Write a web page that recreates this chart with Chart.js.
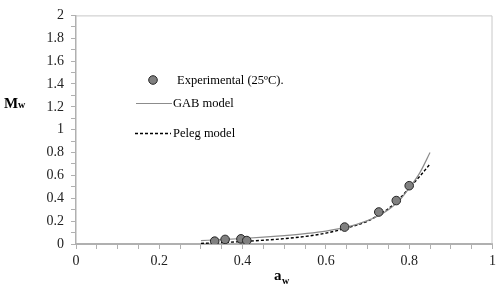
<!DOCTYPE html>
<html>
<head>
<meta charset="utf-8">
<script src="https://cdn.jsdelivr.net/npm/chart.js@4"></script>
<style>
  html, body { margin: 0; padding: 0; background: #fff; }
  #wrap { width: 500px; height: 291px; }
</style>
</head>
<body>
<div id="wrap"><canvas id="isotherm" width="500" height="291"></canvas></div>
<script>
const expAw = [0.333, 0.358, 0.396, 0.41, 0.645, 0.727, 0.769, 0.80];
const expMw = [0.025, 0.04, 0.045, 0.03, 0.148, 0.28, 0.38, 0.51];

const gabAw = [0.3, 0.35, 0.4, 0.45, 0.5, 0.55, 0.6, 0.65, 0.7, 0.725, 0.75, 0.775, 0.8, 0.825, 0.85];
const gabMw = [0.03, 0.038, 0.048, 0.06, 0.074, 0.091, 0.113, 0.147, 0.205, 0.245, 0.30, 0.375, 0.49, 0.62, 0.80];

const pelegAw = [0.3, 0.35, 0.4, 0.45, 0.5, 0.55, 0.6, 0.65, 0.7, 0.725, 0.75, 0.775, 0.8, 0.825, 0.85];
const pelegMw = [0.005, 0.013, 0.022, 0.033, 0.047, 0.066, 0.095, 0.14, 0.2, 0.25, 0.31, 0.39, 0.49, 0.59, 0.70];

const xTicks = [0, 0.2, 0.4, 0.6, 0.8, 1];
const yTicks = [0, 0.2, 0.4, 0.6, 0.8, 1, 1.2, 1.4, 1.6, 1.8, 2];

const legendItems = ['Experimental (25ºC).', 'GAB model', 'Peleg model'];

const toPoints = (xs, ys) => xs.map((x, i) => ({ x: x, y: ys[i] }));
const isMajor = (v, list) => list.some(t => Math.abs(t - v) < 1e-6);
const fmt = v => String(Math.round(v * 10) / 10);

const serif = 'Liberation Serif, Times New Roman, serif';
const axisGray = '#b0b0b0';

// frame, in-plot legend and axis titles with subscripts
const extras = {
  id: 'extras',
  afterDraw(chart) {
    const ctx = chart.ctx;
    const a = chart.chartArea;
    ctx.save();
    ctx.strokeStyle = '#c8c8c8';
    ctx.lineWidth = 1;
    ctx.beginPath();
    ctx.moveTo(a.left, a.top + 0.5);
    ctx.lineTo(a.right - 0.5, a.top + 0.5);
    ctx.lineTo(a.right - 0.5, a.bottom);
    ctx.stroke();

    // legend
    ctx.font = '12.5px ' + serif;
    ctx.textBaseline = 'middle';
    ctx.beginPath();
    ctx.arc(153, 80, 4.3, 0, Math.PI * 2);
    ctx.fillStyle = '#808080';
    ctx.fill();
    ctx.strokeStyle = '#262626';
    ctx.lineWidth = 1;
    ctx.stroke();
    ctx.fillStyle = '#000';
    ctx.fillText(legendItems[0], 177, 81);

    ctx.strokeStyle = '#8c8c8c';
    ctx.lineWidth = 1.2;
    ctx.beginPath();
    ctx.moveTo(136, 103.5);
    ctx.lineTo(172, 103.5);
    ctx.stroke();
    ctx.fillText(legendItems[1], 173, 104);

    ctx.strokeStyle = '#000';
    ctx.lineWidth = 1.3;
    ctx.setLineDash([3, 2]);
    ctx.beginPath();
    ctx.moveTo(135, 133.5);
    ctx.lineTo(171, 133.5);
    ctx.stroke();
    ctx.setLineDash([]);
    ctx.fillText(legendItems[2], 173, 134);

    // axis titles
    ctx.textBaseline = 'alphabetic';
    ctx.font = 'bold 15px ' + serif;
    ctx.fillText('M', 4, 108);
    ctx.font = 'bold 10px ' + serif;
    ctx.fillText('w', 18, 108);

    ctx.font = 'bold 15px ' + serif;
    ctx.fillText('a', 274, 280);
    ctx.font = 'bold 10px ' + serif;
    ctx.fillText('w', 282, 284);
    ctx.restore();
  }
};

new Chart(document.getElementById('isotherm'), {
  type: 'scatter',
  data: {
    datasets: [
      {
        label: legendItems[0],
        data: toPoints(expAw, expMw),
        backgroundColor: '#808080',
        borderColor: '#262626',
        borderWidth: 1,
        pointRadius: 4.3,
        showLine: false
      },
      {
        label: legendItems[1],
        data: toPoints(gabAw, gabMw),
        showLine: true,
        borderColor: '#8c8c8c',
        borderWidth: 1.2,
        pointRadius: 0,
        cubicInterpolationMode: 'monotone'
      },
      {
        label: legendItems[2],
        data: toPoints(pelegAw, pelegMw),
        showLine: true,
        borderColor: '#000',
        borderWidth: 1.4,
        borderDash: [3, 2],
        pointRadius: 0,
        cubicInterpolationMode: 'monotone'
      }
    ]
  },
  options: {
    responsive: false,
    animation: false,
    layout: { padding: { left: 0, right: 6, top: 10, bottom: 0 } },
    plugins: { legend: { display: false }, tooltip: { enabled: false } },
    scales: {
      x: {
        type: 'linear',
        min: 0,
        max: 1,
        afterFit: s => { s.height = 47; },
        border: { color: axisGray, width: 2 },
        grid: { drawOnChartArea: false, drawTicks: true, tickLength: 5, color: axisGray },
        ticks: {
          stepSize: 0.05,
          autoSkip: false,
          maxRotation: 0,
          padding: 4,
          color: '#222',
          font: { family: serif, size: 14 },
          callback: v => isMajor(v, xTicks) ? fmt(v) : ''
        }
      },
      y: {
        type: 'linear',
        min: 0,
        max: 2,
        afterFit: s => { s.width = 76; },
        border: { color: axisGray, width: 1.5 },
        grid: { drawOnChartArea: false, drawTicks: true, tickLength: 5, color: axisGray },
        ticks: {
          stepSize: 0.1,
          autoSkip: false,
          padding: 7,
          color: '#222',
          font: { family: serif, size: 14 },
          callback: v => isMajor(v, yTicks) ? fmt(v) : ''
        }
      }
    }
  },
  plugins: [extras]
});
</script>
</body>
</html>
